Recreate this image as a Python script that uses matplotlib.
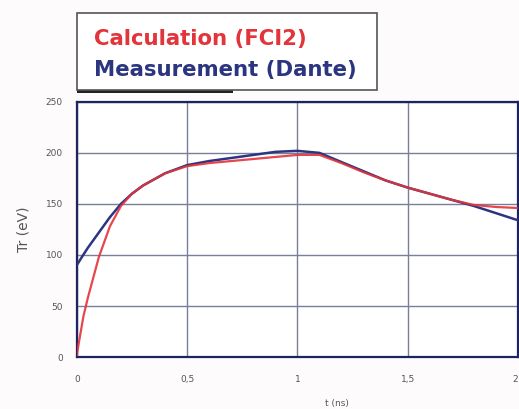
import matplotlib
matplotlib.use("Agg")
import matplotlib.pyplot as plt
from matplotlib.patches import Rectangle

# Data
t_calc = [0, 0.01, 0.03, 0.05, 0.08, 0.1, 0.15, 0.2, 0.25, 0.3, 0.4, 0.5, 0.6, 0.7,
          0.8, 0.9, 1.0, 1.1, 1.2, 1.3, 1.4, 1.5, 1.6, 1.7, 1.8, 1.9, 2.0]
T_calc = [2, 15, 40, 58, 82, 98, 128, 148, 160, 168, 180, 187, 190, 192,
          194, 196, 198, 198, 190, 181, 173, 166, 160, 154, 149, 147, 146]

t_meas = [0, 0.02, 0.05, 0.1, 0.15, 0.2, 0.25, 0.3, 0.4, 0.5, 0.6, 0.7, 0.8, 0.9,
          1.0, 1.1, 1.2, 1.3, 1.4, 1.5, 1.6, 1.7, 1.8, 1.9, 2.0]
T_meas = [90, 97, 107, 122, 137, 150, 160, 168, 180, 188, 192, 195, 198, 201,
          202, 200, 191, 182, 173, 166, 160, 154, 148, 141, 134]

x_ticks = [0, 0.5, 1, 1.5, 2]
x_tick_labels = ["0", "0,5", "1", "1,5", "2"]
y_ticks = [0, 50, 100, 150, 200, 250]
y_tick_labels = ["0", "50", "100", "150", "200", "250"]

label_calc = "Calculation (FCI2)"
label_meas = "Measurement (Dante)"

red = "#e2343a"
blue = "#2b3580"

fig = plt.figure(figsize=(5.19, 4.09), dpi=100)
fig.patch.set_facecolor("#fdfbfb")
ax = fig.add_axes([0.148, 0.127, 0.850, 0.624])
ax.set_facecolor("white")

ax.plot(t_meas, T_meas, color=blue, lw=1.8, zorder=3)
ax.plot(t_calc, T_calc, color=red, lw=1.6, zorder=4, alpha=0.9)

ax.set_xlim(0, 2)
ax.set_ylim(0, 250)
ax.set_xticks(x_ticks)
ax.set_xticklabels(x_tick_labels)
ax.set_yticks(y_ticks)
ax.set_yticklabels(y_tick_labels)
ax.tick_params(length=0, labelsize=6.5, colors="#555555")
ax.tick_params(axis="x", pad=13)
ax.tick_params(axis="y", pad=10)
ax.get_xticklabels()[-1].set_horizontalalignment("right")
ax.grid(True, color="#7a7f99", lw=1.0)
for s in ax.spines.values():
    s.set_color("#1e2460")
    s.set_linewidth(1.6)

ax.set_xlabel("t (ns)", fontsize=6.5, color="#555555")
ax.xaxis.set_label_coords(0.59, -0.165)
ax.set_ylabel("Tr (eV)", fontsize=10, color="#555555")
ax.yaxis.set_label_coords(-0.105, 0.50)

# Legend box with shadow
fig.patches.append(Rectangle((77 / 519, 1 - 93 / 409), 156 / 519, 4 / 409,
                             transform=fig.transFigure,
                             facecolor="#222222", edgecolor="none", zorder=1))
fig.patches.append(Rectangle((77 / 519, 1 - 90 / 409), 300 / 519, 77 / 409,
                             transform=fig.transFigure,
                             facecolor="white", edgecolor="#555555", lw=1.2, zorder=2))
fig.text(94 / 519, 1 - 45 / 409, label_calc, color=red, fontsize=15.3,
         fontweight="bold", family="DejaVu Sans", va="baseline", ha="left", zorder=3)
fig.text(94 / 519, 1 - 76 / 409, label_meas, color=blue, fontsize=15.3,
         fontweight="bold", family="DejaVu Sans", va="baseline", ha="left", zorder=3)

fig.savefig("out.png", dpi=100, facecolor=fig.get_facecolor())
